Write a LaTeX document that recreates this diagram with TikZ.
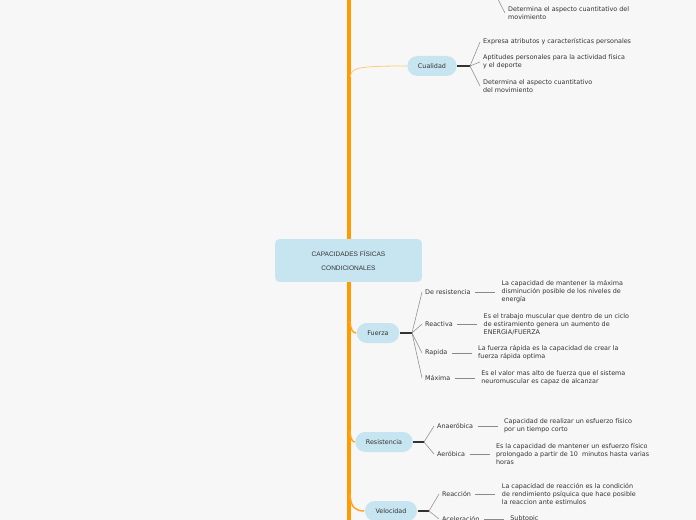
\documentclass[tikz,border=0pt]{standalone}
\usepackage{fontspec}
\setmainfont{DejaVu Sans}
\newfontfamily\rootfont{Liberation Sans}
\usetikzlibrary{positioning}

\definecolor{bgcol}{HTML}{F7F7F7}
\definecolor{spineorange}{HTML}{FF9A00}
\definecolor{branchorange}{HTML}{FFA51E}
\definecolor{paleorange}{HTML}{FFCB78}
\definecolor{pillblue}{HTML}{C6E5F0}
\definecolor{txtgray}{HTML}{333333}
\definecolor{fangray}{HTML}{8A8A8A}

\tikzset{every picture/.style={line width=0.75pt}}
\tikzset{
  rootbox/.style={fill=pillblue, rounded corners=3pt, minimum width=110pt, minimum height=32pt,
    align=center, text=txtgray, font=\rootfont\fontsize{4.9}{10.5}\selectfont},
  topic/.style={fill=pillblue, rounded corners=7.5pt, minimum height=15pt, inner xsep=8pt,
    text=txtgray, font=\fontsize{4.8}{6}\selectfont},
  sublabel/.style={anchor=west, inner sep=2pt, text=txtgray, font=\fontsize{4.8}{6}\selectfont},
  desc/.style={inner sep=2pt, align=left, text=txtgray, font=\fontsize{4.8}{6}\selectfont},
  fan/.style={draw=fangray, line width=0.4pt},
  bracket/.style={draw=txtgray, line width=1.1pt},
  link/.style={draw=fangray, line width=0.45pt, shorten <=1pt, shorten >=2.5pt},
  branch/.style={draw=branchorange, line width=1.1pt},
}

\begin{document}
\begin{tikzpicture}[x=0.75pt,y=0.75pt,yscale=-1,xscale=1]
\useasboundingbox (0,0) rectangle (696,520);
\fill[bgcol] (0,0) rectangle (696,520);
\clip (0,0) rectangle (696,520);

%Straight Lines [spine]
\draw [color=spineorange, line width=3pt] (348.5,-5) -- (348.5,525) ;

% Root Node
\node [rootbox] (root) at (348.5,260.5) {CAPACIDADES FÍSICAS\\CONDICIONALES};

% Topic Nodes
\node [topic] (cual) at (432,66) {Cualidad};
\node [topic] (fza) at (378,333) {Fuerza};
\node [topic] (res) at (384,442) {Resistencia};
\node [topic] (vel) at (391,511) {Velocidad};

%Curve Lines [spine to topics]
\coordinate (sp-cual) at (350.5,77);
\coordinate (sp-fza) at (350,321);
\coordinate (sp-res) at (350,431);
\coordinate (sp-vel) at (350,494);
\draw [draw=paleorange, line width=0.6pt] (sp-cual) .. controls (351,68) and (356,66) .. (cual.west) ;
\draw [branch] (sp-fza) .. controls (350.5,330) and (353,333) .. (fza.west) ;
\draw [branch] (sp-res) .. controls (350.5,440) and (353,442) .. (res.west) ;
\draw [branch] (sp-vel) .. controls (350.5,508) and (356,511) .. (vel.west) ;

% Top (cut off)
\coordinate (top-j) at (488,-20);
\node [desc, anchor=west] (top-d) at (505,13) {Determina el aspecto cuantitativo del\\movimiento};
\draw [fan] (top-j) -- (top-d.west) ;

% Cualidad
\coordinate (cual-j) at (470,66);
\node [desc, anchor=west] (cual-a) at (480,42) {Expresa atributos y características personales};
\node [desc, anchor=west] (cual-b) at (480,62) {Aptitudes personales para la actividad física\\y el deporte};
\node [desc, anchor=west] (cual-c) at (480,86) {Determina el aspecto cuantitativo\\del movimiento};
\draw [bracket] (cual.east) -- (cual-j) ;
\foreach \k in {a,b,c} \draw [fan] (cual-j) -- (cual-\k.west) ;

% Fuerza
\coordinate (fza-j) at (412,333);
\node [sublabel] (fza-res) at (422,292) {De resistencia};
\node [sublabel] (fza-rea) at (422,324) {Reactiva};
\node [sublabel] (fza-rap) at (422,353) {Rapida};
\node [sublabel] (fza-max) at (422,378) {Máxima};
\node [desc, right=18.5pt of fza-res] (fza-res-d) {La capacidad de mantener la máxima\\disminución posible de los niveles de\\energía};
\node [desc, right=18.5pt of fza-rea] (fza-rea-d) {Es el trabajo muscular que dentro de un ciclo\\de estiramiento genera un aumento de\\ENERGIA/FUERZA};
\node [desc, right=18.5pt of fza-rap] (fza-rap-d) {La fuerza rápida es la capacidad de crear la\\fuerza rápida optima};
\node [desc, right=18.5pt of fza-max] (fza-max-d) {Es el valor mas alto de fuerza que el sistema\\neuromuscular es capaz de alcanzar};
\draw [bracket] (fza.east) -- (fza-j) ;
\foreach \k in {res,rea,rap,max} {
  \draw [fan] (fza-j) -- (fza-\k.west) ;
  \draw [link] (fza-\k.east) -- (fza-\k-d.west) ;
}

% Resistencia
\coordinate (res-j) at (424,442);
\node [sublabel] (res-ana) at (434,426) {Anaeróbica};
\node [sublabel] (res-aer) at (434,454) {Aeróbica};
\node [desc, right=18.5pt of res-ana] (res-ana-d) {Capacidad de realizar un esfuerzo físico\\por un tiempo corto};
\node [desc, right=18.5pt of res-aer] (res-aer-d) {Es la capacidad de mantener un esfuerzo físico\\prolongado a partir de 10~ minutos hasta varias\\horas};
\draw [bracket] (res.east) -- (res-j) ;
\foreach \k in {ana,aer} {
  \draw [fan] (res-j) -- (res-\k.west) ;
  \draw [link] (res-\k.east) -- (res-\k-d.west) ;
}

% Velocidad
\coordinate (vel-j) at (429,511);
\node [sublabel] (vel-rea) at (439,494) {Reacción};
\node [sublabel] (vel-ace) at (439,519) {Aceleración};
\node [desc, right=18.5pt of vel-rea] (vel-rea-d) {La capacidad de reacción es la condición\\de rendimiento psíquica que hace posible\\la reaccion ante estimulos};
\node [desc, right=18.5pt of vel-ace] (vel-ace-d) {Subtopic};
\draw [bracket] (vel.east) -- (vel-j) ;
\foreach \k in {rea,ace} {
  \draw [fan] (vel-j) -- (vel-\k.west) ;
  \draw [link] (vel-\k.east) -- (vel-\k-d.west) ;
}

\end{tikzpicture}
\end{document}
